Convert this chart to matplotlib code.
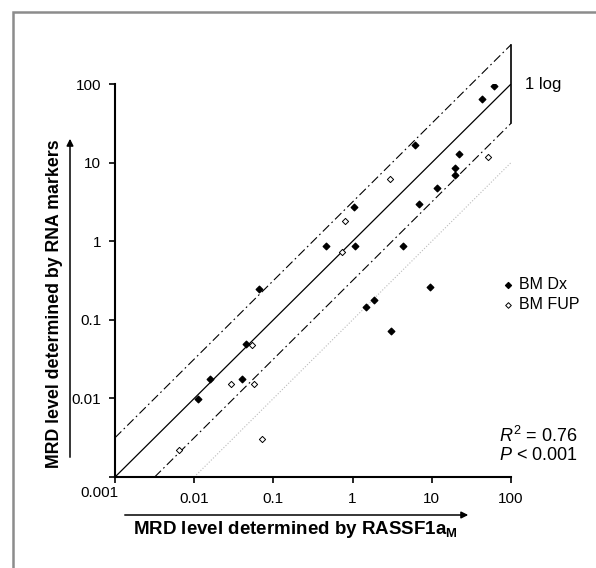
import numpy as np
import matplotlib
matplotlib.use("Agg")
import matplotlib.pyplot as plt
from matplotlib.patches import Rectangle, FancyArrowPatch

plt.rcParams['font.family'] = ['Liberation Sans', 'DejaVu Sans']
plt.rcParams['mathtext.fontset'] = 'custom'
plt.rcParams['mathtext.rm'] = 'Liberation Sans'
plt.rcParams['mathtext.it'] = 'Liberation Sans:italic'
plt.rcParams['mathtext.bf'] = 'Liberation Sans:bold'

# BM Dx (filled diamonds)
dx_x = [61, 43, 6.1, 21.9, 19.6, 19.6, 11.7, 6.9, 1.04, 0.457, 1.07, 4.3,
        9.6, 1.86, 1.49, 3.05, 0.0658, 0.0455, 0.0157, 0.0405, 0.0113]
dx_y = [94, 64, 16.6, 12.9, 8.5, 7.0, 4.7, 3.0, 2.72, 0.87, 0.87, 0.87,
        0.264, 0.179, 0.147, 0.0714, 0.247, 0.0497, 0.0178, 0.0178, 0.0099]

# BM FUP (open diamonds)
fup_x = [50.7, 2.96, 0.80, 0.74, 0.0537, 0.0289, 0.0574, 0.0724, 0.00643]
fup_y = [11.9, 6.2, 1.79, 0.72, 0.0474, 0.0151, 0.0154, 0.00304, 0.00222]

xlo, xhi = 0.001, 100
decades = [0.001, 0.01, 0.1, 1, 10, 100]
tick_text = ['0.001', '0.01', '0.1', '1', '10', '100']

fig = plt.figure(figsize=(5.96, 5.68), dpi=100)
ax = fig.add_axes([0.193, 0.1602, 0.6644, 0.6919])

# gray outer frame
fig.patches.append(Rectangle((0.0218, -0.05), 1.2, 1.05 - 0.021, transform=fig.transFigure,
                             fill=False, edgecolor='#8c8c8c', linewidth=1.8))

# identity and +/- half log, 1 log lines
ax.plot([xlo, xhi], [xlo, xhi], color='black', lw=0.9)
ax.plot([xlo, xhi], [xlo * 10**0.5, xhi * 10**0.5], color='black', lw=0.8,
        dashes=(8, 3, 1.5, 3), clip_on=False)
ax.plot([xlo * 10**0.5, xhi], [xlo, xhi / 10**0.5], color='black', lw=0.8,
        dashes=(8, 3, 1.5, 3))
ax.plot([xlo * 10, xhi], [xlo, xhi / 10], color='#bbbbbb', lw=0.8, ls=':')

# 1 log bracket
ax.plot([xhi, xhi], [xhi / 10**0.5, xhi * 10**0.5], color='black', lw=1.2, clip_on=False)
ax.text(150, 100, '1 log', fontsize=12, va='center', ha='left')

ax.scatter(dx_x, dx_y, marker='D', s=11, color='black', zorder=3, label='BM Dx')
ax.scatter(fup_x, fup_y, marker='D', s=10, facecolor='white', edgecolor='black',
           linewidths=0.7, zorder=3, label='BM FUP')

ax.set_xscale('log')
ax.set_yscale('log')
ax.set_xlim(xlo, xhi)
ax.set_ylim(xlo, xhi)
ax.set_xticks(decades)
ax.set_xticklabels([''] + tick_text[1:])
ax.set_yticks(decades)
ax.set_yticklabels([''] + tick_text[1:])
ax.minorticks_off()
ax.tick_params(direction='out', length=4, width=1.2, labelsize=11, pad=7)
ax.tick_params(axis='y', pad=6)
ax.text(-0.04, -0.022, '0.001', transform=ax.transAxes, ha='center', va='top', fontsize=11)

for s in ['top', 'right']:
    ax.spines[s].set_visible(False)
for s in ['left', 'bottom']:
    ax.spines[s].set_linewidth(1.5)

leg = ax.legend(loc='upper left', bbox_to_anchor=(0.937, 0.545), frameon=False,
                fontsize=11.5, handletextpad=0.15, markerscale=0.9, labelspacing=0.3,
                handlelength=1.0)

ax.text(0.97, 0.082, '$R^2$ = 0.76\n$P$ < 0.001', transform=ax.transAxes,
        fontsize=13, ha='left', va='center', linespacing=1.05)

# axis titles with arrows
fig.text(295 / 596, 1 - 530 / 568, r'MRD level determined by RASSF1a$_\mathbf{M}$',
         fontsize=13.5, fontweight='bold', ha='center', va='center')
fig.text(55 / 596, 1 - 304 / 568, 'MRD level determined by RNA markers',
         fontsize=12.8, fontweight='bold', ha='center', va='center', rotation=90)
fig.add_artist(FancyArrowPatch(
    (122 / 596, 1 - 515 / 568), (471 / 596, 1 - 515 / 568), transform=fig.transFigure,
    arrowstyle='-|>', mutation_scale=10, color='black', lw=1.1))
fig.add_artist(FancyArrowPatch(
    (70 / 596, 1 - 460 / 568), (70 / 596, 1 - 136 / 568), transform=fig.transFigure,
    arrowstyle='-|>', mutation_scale=10, color='black', lw=1.1))

fig.savefig('out.png', dpi=100)
